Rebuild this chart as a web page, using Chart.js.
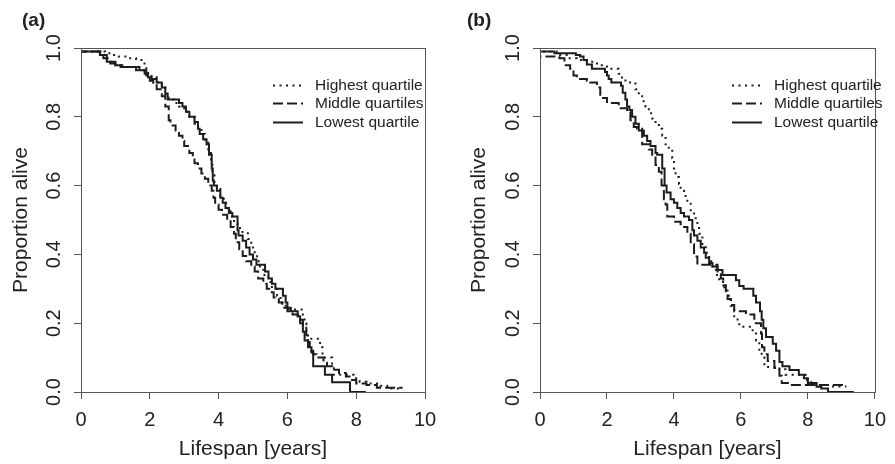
<!DOCTYPE html>
<html>
<head>
<meta charset="utf-8">
<script src="https://cdn.jsdelivr.net/npm/chart.js@4.4.0/dist/chart.umd.min.js"></script>
<style>
  body { margin: 0; background: #fff; width: 895px; height: 464px; overflow: hidden; position: relative; }
  .panel { position: absolute; top: 0; height: 464px; }
  #pa { left: 0; width: 447px; }
  #pb { left: 447px; width: 448px; }
</style>
</head>
<body>
<div class="panel" id="pa"><canvas id="ca" width="447" height="464"></canvas></div>
<div class="panel" id="pb"><canvas id="cb" width="448" height="464"></canvas></div>
<script>
// labels
const seriesNames = ['Highest quartile', 'Middle quartiles', 'Lowest quartile'];
const xTitle = 'Lifespan [years]';
const yTitle = 'Proportion alive';
const yTickValues = [0, 0.2, 0.4, 0.6, 0.8, 1.0];
const yTickLabels = ['0.0', '0.2', '0.4', '0.6', '0.8', '1.0'];

// panel (a) - survival steps (time, proportion after step)
const aHighT = [0, 0.7, 0.9, 1.1, 1.4, 1.6, 1.8, 1.9, 1.95, 2.05, 2.2, 2.35, 2.45, 2.55, 2.7, 2.85, 3.0, 3.15, 3.3, 3.4, 3.5, 3.6, 3.7, 3.78, 3.82, 3.88, 3.95, 4.05, 4.15, 4.25, 4.35, 4.45, 4.55, 4.62, 4.85, 4.95, 5.05, 5.12, 5.2, 5.3, 5.45, 5.55, 5.7, 5.8, 5.95, 6.45, 6.5, 6.55, 6.6, 6.95, 7.02, 7.3, 7.35, 7.93, 8.0, 8.1, 8.3, 8.7, 8.9, 9.0, 9.3];
const aHighS = [1, 0.99, 0.985, 0.98, 0.975, 0.97, 0.965, 0.955, 0.94, 0.925, 0.915, 0.9, 0.885, 0.86, 0.85, 0.84, 0.83, 0.815, 0.8, 0.78, 0.765, 0.75, 0.73, 0.7, 0.66, 0.63, 0.61, 0.59, 0.57, 0.55, 0.53, 0.51, 0.49, 0.48, 0.465, 0.445, 0.42, 0.4, 0.38, 0.36, 0.34, 0.32, 0.3, 0.28, 0.26, 0.24, 0.22, 0.2, 0.177, 0.155, 0.13, 0.1, 0.073, 0.05, 0.045, 0.038, 0.03, 0.025, 0.018, 0.01, 0.01];
const aMidT = [0, 0.6, 0.75, 0.85, 1.0, 1.2, 1.6, 1.9, 2.0, 2.1, 2.2, 2.35, 2.45, 2.55, 2.6, 2.75, 2.85, 2.95, 3.0, 3.15, 3.25, 3.3, 3.4, 3.5, 3.6, 3.7, 3.8, 3.85, 3.9, 4.0, 4.1, 4.25, 4.35, 4.45, 4.5, 4.6, 4.7, 4.8, 4.95, 5.05, 5.15, 5.3, 5.4, 5.5, 5.6, 5.75, 5.85, 6.0, 6.15, 6.3, 6.45, 6.55, 6.6, 6.65, 6.75, 6.85, 7.05, 7.15, 7.3, 7.5, 7.7, 7.85, 8.0, 8.3, 8.6, 8.85, 9.35];
const aMidS = [1, 0.99, 0.98, 0.97, 0.96, 0.95, 0.945, 0.935, 0.92, 0.905, 0.895, 0.88, 0.86, 0.83, 0.79, 0.775, 0.76, 0.745, 0.73, 0.715, 0.695, 0.68, 0.665, 0.65, 0.635, 0.62, 0.6, 0.585, 0.565, 0.545, 0.53, 0.515, 0.5, 0.48, 0.46, 0.435, 0.415, 0.395, 0.38, 0.365, 0.35, 0.33, 0.315, 0.3, 0.29, 0.275, 0.26, 0.245, 0.235, 0.225, 0.21, 0.19, 0.165, 0.145, 0.12, 0.11, 0.1, 0.085, 0.075, 0.065, 0.055, 0.045, 0.035, 0.025, 0.02, 0.012, 0.012];
const aLowT = [0, 0.55, 0.65, 0.75, 0.85, 1.0, 1.15, 1.7, 1.85, 1.95, 2.05, 2.2, 2.35, 2.45, 2.52, 2.85, 2.95, 3.05, 3.15, 3.3, 3.4, 3.45, 3.55, 3.65, 3.72, 3.8, 3.83, 3.86, 3.95, 4.05, 4.12, 4.2, 4.3, 4.4, 4.55, 4.58, 4.7, 4.8, 4.9, 5.0, 5.1, 5.35, 5.45, 5.55, 5.65, 5.87, 5.95, 6.0, 6.1, 6.3, 6.37, 6.45, 6.5, 6.6, 6.7, 6.75, 7.09, 7.3, 7.82, 8.28];
const aLowS = [1, 0.99, 0.98, 0.97, 0.96, 0.955, 0.95, 0.945, 0.935, 0.925, 0.915, 0.91, 0.9, 0.885, 0.868, 0.85, 0.84, 0.83, 0.815, 0.8, 0.785, 0.765, 0.75, 0.735, 0.72, 0.69, 0.65, 0.615, 0.6, 0.585, 0.565, 0.55, 0.535, 0.52, 0.51, 0.47, 0.455, 0.44, 0.42, 0.4, 0.385, 0.37, 0.35, 0.33, 0.315, 0.3, 0.28, 0.26, 0.245, 0.235, 0.22, 0.2, 0.175, 0.15, 0.13, 0.115, 0.075, 0.05, 0.028, 0];

// panel (b)
const bHighT = [0, 0.5, 0.8, 1.1, 1.4, 1.6, 1.8, 2.0, 2.35, 2.45, 2.55, 2.85, 2.95, 3.05, 3.15, 3.25, 3.35, 3.45, 3.55, 3.65, 3.75, 3.8, 3.95, 4.0, 4.05, 4.15, 4.2, 4.3, 4.4, 4.5, 4.6, 4.7, 4.75, 4.85, 4.95, 5.05, 5.15, 5.25, 5.35, 5.5, 5.6, 5.7, 5.8, 5.9, 5.95, 6.35, 6.45, 6.55, 6.62, 6.7, 7.15, 7.33, 7.93, 8.1, 8.2, 8.6, 9.06, 9.15];
const bHighS = [1, 0.99, 0.98, 0.97, 0.965, 0.96, 0.955, 0.95, 0.94, 0.925, 0.91, 0.9, 0.88, 0.86, 0.845, 0.83, 0.81, 0.795, 0.78, 0.765, 0.745, 0.72, 0.71, 0.68, 0.65, 0.625, 0.605, 0.585, 0.57, 0.55, 0.525, 0.505, 0.48, 0.46, 0.43, 0.405, 0.38, 0.36, 0.34, 0.32, 0.3, 0.28, 0.25, 0.22, 0.2, 0.19, 0.175, 0.15, 0.116, 0.1, 0.073, 0.066, 0.05, 0.035, 0.028, 0.02, 0.016, 0.016];
const bMidT = [0, 0.58, 0.73, 0.9, 1.0, 1.1, 1.4, 1.5, 1.7, 1.8, 2.0, 2.35, 2.6, 2.7, 2.8, 2.9, 3.05, 3.25, 3.35, 3.45, 3.55, 3.63, 3.7, 3.75, 3.8, 4.0, 4.2, 4.4, 4.5, 4.6, 4.7, 5.3, 5.4, 5.47, 5.55, 5.6, 5.7, 5.8, 6.15, 6.4, 6.6, 6.63, 6.7, 6.8, 7.0, 7.15, 7.22, 7.47, 8.6, 9.1];
const bMidS = [1, 0.975, 0.97, 0.95, 0.94, 0.92, 0.91, 0.905, 0.9, 0.885, 0.855, 0.84, 0.825, 0.815, 0.79, 0.77, 0.765, 0.72, 0.705, 0.685, 0.66, 0.64, 0.6, 0.56, 0.545, 0.51, 0.495, 0.48, 0.46, 0.43, 0.394, 0.37, 0.35, 0.33, 0.31, 0.29, 0.27, 0.253, 0.235, 0.225, 0.2, 0.17, 0.13, 0.11, 0.09, 0.07, 0.047, 0.026, 0.02, 0.02];
const bLowT = [0, 0.43, 1.07, 1.2, 1.3, 1.4, 1.55, 1.94, 2.0, 2.05, 2.13, 2.42, 2.47, 2.55, 2.6, 2.67, 2.75, 2.85, 2.95, 3.1, 3.2, 3.3, 3.45, 3.5, 3.65, 3.72, 3.78, 3.9, 4.0, 4.1, 4.2, 4.3, 4.45, 4.55, 4.6, 4.7, 4.8, 4.9, 4.95, 5.05, 5.15, 5.3, 5.45, 5.85, 5.95, 6.08, 6.37, 6.45, 6.57, 6.62, 6.67, 6.75, 6.95, 7.05, 7.15, 7.24, 7.45, 7.73, 7.88, 8.0, 8.26, 8.4, 8.6, 9.37];
const bLowS = [1, 0.99, 0.985, 0.98, 0.975, 0.965, 0.952, 0.94, 0.93, 0.92, 0.91, 0.9, 0.89, 0.87, 0.85, 0.83, 0.82, 0.8, 0.78, 0.76, 0.745, 0.73, 0.715, 0.695, 0.69, 0.65, 0.6, 0.58, 0.56, 0.55, 0.535, 0.52, 0.51, 0.5, 0.47, 0.455, 0.44, 0.42, 0.405, 0.39, 0.375, 0.365, 0.355, 0.34, 0.325, 0.308, 0.3, 0.28, 0.26, 0.235, 0.21, 0.185, 0.16, 0.14, 0.12, 0.087, 0.075, 0.064, 0.05, 0.04, 0.026, 0.015, 0.01, 0];

const FONT = '"Liberation Sans", Arial, Helvetica, sans-serif';
const INK = '#222';
const AXIS = '#555';
const dashes = [[2, 4.5], [10, 4], []];

function steps(t, s) {
  return t.map((x, i) => ({ x: x, y: s[i] }));
}

function makeSet(i, t, s) {
  return {
    label: seriesNames[i],
    data: steps(t, s),
    stepped: 'after',
    borderColor: '#1c1c1c',
    borderWidth: 2,
    borderDash: dashes[i],
    pointRadius: 0,
    fill: false
  };
}

// box, rotated y tick labels, legend and panel tag
const decor = {
  id: 'decor',
  afterDraw(chart, args, opts) {
    const { ctx, chartArea: a } = chart;
    const y = chart.scales.y;
    ctx.save();
    ctx.strokeStyle = AXIS;
    ctx.lineWidth = 1;
    ctx.setLineDash([]);
    ctx.strokeRect(Math.round(a.left) + 0.5, Math.round(a.top) + 0.5,
      Math.round(a.right - a.left), Math.round(a.bottom - a.top));

    ctx.fillStyle = INK;
    ctx.font = '20px ' + FONT;
    ctx.textAlign = 'center';
    ctx.textBaseline = 'middle';
    yTickValues.forEach((v, i) => {
      ctx.save();
      ctx.translate(a.left - 27, y.getPixelForValue(v));
      ctx.rotate(-Math.PI / 2);
      ctx.fillText(yTickLabels[i], 0, 0);
      ctx.restore();
    });

    // legend
    ctx.font = '15.5px ' + FONT;
    ctx.textAlign = 'left';
    chart.data.datasets.forEach((ds, i) => {
      const ly = Math.round(a.top + 37 + i * 18.3) + 0.5;
      ctx.beginPath();
      ctx.strokeStyle = ds.borderColor;
      ctx.lineWidth = ds.borderWidth;
      ctx.setLineDash(ds.borderDash);
      ctx.moveTo(a.left + 192, ly);
      ctx.lineTo(a.left + 222, ly);
      ctx.stroke();
      ctx.setLineDash([]);
      ctx.fillText(ds.label, a.left + 234, ly);
    });

    ctx.font = 'bold 19px ' + FONT;
    ctx.textBaseline = 'alphabetic';
    ctx.fillText(opts.tag, opts.tagX, 26);
    ctx.restore();
  }
};

function makeChart(id, sets, yW, padRight, titlePad, tag, tagX) {
  return new Chart(document.getElementById(id), {
    type: 'line',
    data: { datasets: sets },
    plugins: [decor],
    options: {
      responsive: false,
      animation: false,
      devicePixelRatio: 1,
      layout: { padding: { top: 48, right: padRight, bottom: 0, left: 0 } },
      plugins: {
        legend: { display: false },
        tooltip: { enabled: false },
        decor: { tag: tag, tagX: tagX }
      },
      scales: {
        x: {
          type: 'linear', min: 0, max: 10,
          afterFit: s => { s.height = 72; },
          ticks: { stepSize: 2, color: INK, font: { size: 20, family: FONT }, padding: 9, maxRotation: 0, autoSkip: false },
          grid: { drawOnChartArea: false, drawTicks: true, tickLength: 7, color: AXIS },
          border: { display: false },
          title: { display: true, text: xTitle, color: INK, font: { size: 21, family: FONT }, padding: { top: 0, bottom: 2 } }
        },
        y: {
          type: 'linear', min: 0, max: 1,
          afterFit: s => { s.width = yW; },
          ticks: { display: false, stepSize: 0.2 },
          grid: { drawOnChartArea: false, drawTicks: true, tickLength: 7, color: AXIS },
          border: { display: false },
          title: { display: true, text: yTitle, color: INK, font: { size: 21, family: FONT }, padding: { top: titlePad, bottom: 0 } }
        }
      }
    }
  });
}

makeChart('ca', [makeSet(0, aHighT, aHighS), makeSet(1, aMidT, aMidS), makeSet(2, aLowT, aLowS)], 81, 22, 8.5, '(a)', 22);
makeChart('cb', [makeSet(0, bHighT, bHighS), makeSet(1, bMidT, bMidS), makeSet(2, bLowT, bLowS)], 93, 11, 20, '(b)', 20);
</script>
</body>
</html>
